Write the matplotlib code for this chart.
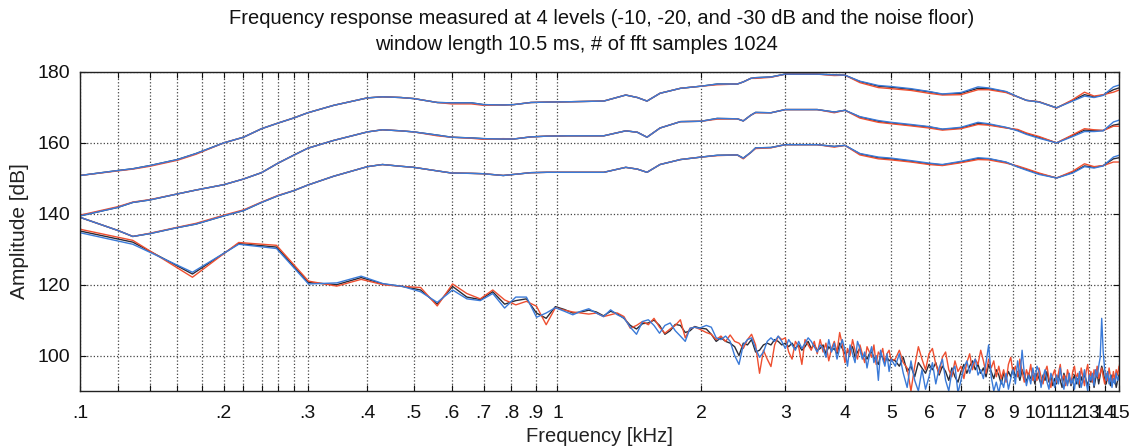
import matplotlib
matplotlib.use("Agg")
import matplotlib.pyplot as plt
from matplotlib.ticker import FixedLocator, FixedFormatter, NullFormatter

plt.rcParams['font.family'] = ['Liberation Sans', 'DejaVu Sans']

# ---------------- data ----------------
title_line1 = "Frequency response measured at 4 levels (-10, -20, and -30 dB and the noise floor)"
title_line2 = "window length 10.5 ms, # of fft samples 1024"
xlabel = "Frequency [kHz]"
ylabel = "Amplitude [dB]"

major_ticks = [0.1, 0.2, 0.3, 0.4, 0.5, 0.6, 0.7, 0.8, 0.9, 1, 2, 3, 4, 5, 6, 7, 8, 9,
               10, 11, 12, 13, 14, 15]
major_labels = ['.1', '.2', '.3', '.4', '.5', '.6', '.7', '.8', '.9', '1', '2', '3', '4',
                '5', '6', '7', '8', '9', '10', '11', '12', '13', '14', '15']
minor_ticks = [0.12, 0.14, 0.16, 0.18, 0.22, 0.24, 0.26, 0.28]
y_ticks = [100, 120, 140, 160, 180]
y_labels = ['100', '120', '140', '160', '180']

# smooth level curves (kHz)
freq_smooth = [0.1, 0.12, 0.129, 0.14, 0.16, 0.175, 0.2, 0.22, 0.24, 0.26, 0.28, 0.3, 0.34,
               0.4, 0.43, 0.47, 0.5, 0.56, 0.6, 0.66, 0.7, 0.77, 0.81, 0.88, 0.95, 1.05,
               1.25, 1.39, 1.47, 1.54, 1.64, 1.81, 2.0, 2.16, 2.38, 2.45, 2.54, 2.6, 2.8,
               3.0, 3.5, 3.8, 4.0, 4.3, 4.7, 5.0, 5.5, 6.0, 6.4, 7.0, 7.6, 8.0, 8.7, 9.2,
               9.6, 10.2, 11.1, 12.0, 12.7, 13.3, 13.9, 14.6, 15.0]

lvl10_black = [150.8, 152.2, 152.7, 153.6, 155.3, 157.0, 160.0, 161.6, 164.0, 165.6, 167.0,
               168.5, 170.6, 172.7, 173.0, 172.8, 172.5, 171.4, 171.3, 171.3, 170.8, 170.7,
               170.8, 171.4, 171.5, 171.6, 171.8, 173.5, 172.8, 171.8, 174.0, 175.4, 176.0,
               176.6, 176.6, 177.2, 178.2, 178.4, 178.6, 179.4, 179.4, 179.2, 179.1, 177.3,
               176.0, 175.7, 175.1, 174.4, 173.7, 174.0, 175.4, 175.3, 174.4, 173.0, 172.0,
               171.6, 169.9, 172.0, 173.6, 173.0, 173.5, 175.0, 175.5]
lvl10_red = [150.8, 152.1, 152.6, 153.4, 155.1, 156.8, 160.0, 161.6, 164.0, 165.6, 167.0,
             168.5, 170.6, 172.7, 173.0, 172.8, 172.5, 171.4, 171.0, 171.0, 170.6, 170.7,
             170.8, 171.4, 171.5, 171.6, 171.8, 173.5, 172.8, 171.8, 174.0, 175.4, 176.0,
             176.4, 176.6, 177.2, 178.2, 178.2, 178.5, 179.4, 179.4, 179.0, 179.1, 177.0,
             175.6, 175.3, 174.8, 174.0, 173.5, 173.6, 175.0, 175.0, 174.2, 173.0, 172.0,
             171.6, 169.8, 172.2, 174.3, 173.2, 173.6, 174.3, 174.9]
lvl10_blue = [150.8, 152.2, 152.7, 153.6, 155.3, 157.0, 160.0, 161.6, 164.0, 165.6, 167.0,
              168.5, 170.6, 172.7, 173.0, 172.8, 172.5, 171.4, 171.3, 171.3, 170.8, 170.7,
              170.8, 171.4, 171.5, 171.6, 171.8, 173.5, 172.8, 171.8, 174.0, 175.4, 176.0,
              176.6, 176.6, 177.2, 178.2, 178.4, 178.6, 179.4, 179.4, 179.2, 179.1, 177.4,
              176.2, 175.9, 175.3, 174.5, 173.8, 174.2, 175.8, 175.5, 174.5, 173.0, 172.0,
              171.5, 169.9, 171.8, 173.2, 172.8, 173.4, 175.8, 176.3]

lvl20_black = [139.4, 141.8, 143.2, 143.9, 145.6, 146.7, 148.2, 149.8, 151.6, 154.3, 156.5,
               158.5, 160.7, 163.1, 163.7, 163.4, 163.1, 162.2, 161.6, 161.4, 161.2, 161.1,
               161.1, 161.7, 161.9, 162.0, 162.0, 163.4, 163.0, 161.6, 164.2, 166.0, 166.1,
               166.9, 166.8, 166.2, 167.8, 168.6, 168.5, 169.4, 169.4, 168.7, 169.2, 167.3,
               166.1, 165.6, 165.0, 164.5, 163.8, 164.2, 165.5, 165.2, 164.3, 163.6, 162.6,
               161.6, 160.0, 162.1, 163.6, 163.5, 163.5, 165.0, 165.3]
lvl20_red = [139.6, 142.0, 143.3, 144.0, 145.6, 146.7, 148.2, 149.8, 151.6, 154.3, 156.5,
             158.5, 160.7, 163.1, 163.7, 163.4, 163.1, 162.0, 161.6, 161.3, 161.0, 161.2,
             161.1, 161.7, 161.9, 162.0, 162.0, 163.4, 163.0, 161.6, 164.2, 166.0, 166.1,
             166.7, 166.8, 166.2, 167.8, 168.5, 168.5, 169.4, 169.4, 168.5, 169.2, 167.0,
             165.8, 165.4, 164.8, 164.2, 163.6, 164.0, 165.2, 165.0, 164.2, 163.8, 162.8,
             161.8, 160.0, 162.3, 164.0, 163.7, 163.5, 164.7, 164.7]
lvl20_blue = [139.4, 141.8, 143.2, 143.9, 145.6, 146.7, 148.2, 149.8, 151.6, 154.3, 156.5,
              158.5, 160.7, 163.1, 163.7, 163.4, 163.1, 162.2, 161.6, 161.4, 161.2, 161.1,
              161.1, 161.7, 161.9, 162.0, 162.0, 163.4, 163.0, 161.6, 164.2, 166.0, 166.1,
              166.9, 166.8, 166.2, 167.8, 168.6, 168.5, 169.4, 169.4, 168.7, 169.2, 167.4,
              166.3, 165.8, 165.2, 164.6, 163.9, 164.4, 165.8, 165.4, 164.4, 163.4, 162.4,
              161.3, 160.0, 161.8, 163.2, 163.2, 163.4, 165.9, 166.4]

lvl30_black = [139.0, 135.3, 133.6, 134.4, 136.1, 137.1, 139.4, 140.9, 143.2, 145.1, 146.5,
               148.1, 150.6, 153.3, 153.9, 153.4, 153.1, 152.1, 151.5, 151.4, 151.3, 150.8,
               151.1, 151.6, 151.7, 151.7, 151.7, 153.1, 152.6, 151.7, 153.9, 155.3, 156.0,
               156.5, 156.6, 155.7, 157.3, 158.6, 158.7, 159.5, 159.5, 159.0, 159.3, 156.9,
               155.8, 155.5, 154.8, 154.1, 153.8, 154.6, 155.6, 155.5, 154.5, 153.3, 152.5,
               151.3, 150.1, 151.7, 153.5, 153.1, 153.6, 155.5, 155.8]
lvl30_red = [139.0, 135.3, 133.6, 134.5, 136.2, 137.3, 139.6, 141.1, 143.3, 145.2, 146.5,
             148.1, 150.6, 153.3, 153.9, 153.4, 153.1, 152.1, 151.5, 151.4, 151.3, 150.8,
             151.1, 151.6, 151.7, 151.7, 151.7, 153.1, 152.6, 151.7, 153.9, 155.3, 156.0,
             156.4, 156.6, 155.5, 157.3, 158.4, 158.6, 159.5, 159.5, 158.8, 159.3, 156.6,
             155.5, 155.2, 154.6, 153.9, 153.6, 154.4, 155.3, 155.2, 154.3, 153.5, 152.7,
             151.5, 150.1, 152.0, 154.1, 153.3, 153.6, 154.6, 154.6]
lvl30_blue = [139.0, 135.3, 133.6, 134.4, 136.1, 137.1, 139.4, 140.9, 143.2, 145.1, 146.5,
              148.1, 150.6, 153.3, 153.9, 153.4, 153.1, 152.1, 151.5, 151.4, 151.3, 150.8,
              151.1, 151.6, 151.7, 151.7, 151.7, 153.1, 152.6, 151.7, 153.9, 155.3, 156.0,
              156.5, 156.6, 155.7, 157.3, 158.6, 158.7, 159.5, 159.5, 159.0, 159.3, 157.0,
              156.0, 155.7, 155.0, 154.3, 153.9, 154.8, 155.8, 155.6, 154.6, 153.2, 152.3,
              151.1, 150.1, 151.5, 153.3, 152.9, 153.5, 156.0, 156.5]

# noise floor (kHz)
freq_noise = [0.086, 0.129, 0.172, 0.215, 0.258, 0.301, 0.345, 0.388, 0.431, 0.474,
              0.517, 0.560, 0.603, 0.646, 0.689, 0.732, 0.775, 0.818, 0.861, 0.904,
              0.947, 0.990, 1.034, 1.077, 1.120, 1.163, 1.206, 1.249, 1.292, 1.335,
              1.378, 1.421, 1.464, 1.507, 1.550, 1.593, 1.636, 1.679, 1.722, 1.765,
              1.809, 1.852, 1.895, 1.938, 1.981,
              2.05, 2.10, 2.15, 2.20, 2.25, 2.30, 2.35, 2.40, 2.45, 2.50,
              2.55, 2.60, 2.65, 2.70, 2.75, 2.80, 2.85, 2.90, 2.95, 3.00,
              3.05, 3.10, 3.15, 3.20, 3.25, 3.30, 3.35, 3.40, 3.45, 3.50,
              3.55, 3.60, 3.65, 3.70, 3.75, 3.80, 3.85, 3.90, 3.95, 4.00,
              4.05, 4.10, 4.15, 4.20, 4.25, 4.30, 4.35, 4.40, 4.45, 4.50,
              4.55, 4.60, 4.65, 4.70, 4.75, 4.80, 4.85, 4.90, 4.95, 5.00,
              5.1, 5.2, 5.3, 5.4, 5.5, 5.6, 5.7, 5.8, 5.9, 6.0,
              6.1, 6.2, 6.3, 6.4, 6.5, 6.6, 6.7, 6.8, 6.9, 7.0,
              7.1, 7.2, 7.3, 7.4, 7.5, 7.6, 7.7, 7.8, 7.9, 8.0,
              8.1, 8.2, 8.3, 8.4, 8.5, 8.6, 8.7, 8.8, 8.9, 9.0,
              9.1, 9.2, 9.3, 9.4, 9.5, 9.6, 9.7, 9.8, 9.9, 10.0,
              10.1, 10.2, 10.3, 10.4, 10.5, 10.6, 10.7, 10.8, 10.9, 11.0,
              11.1, 11.2, 11.3, 11.4, 11.5, 11.6, 11.7, 11.8, 11.9, 12.0,
              12.1, 12.2, 12.3, 12.4, 12.5, 12.6, 12.7, 12.8, 12.9, 13.0,
              13.1, 13.2, 13.3, 13.4, 13.5, 13.6, 13.7, 13.8, 13.9, 14.0,
              14.1, 14.2, 14.3, 14.4, 14.5, 14.6, 14.7, 14.8, 14.9, 15.0]

noise_black = [137.0, 132.0, 123.0, 131.6, 130.6, 120.6, 120.0, 122.0, 120.2, 119.5,
               118.5, 114.5, 119.5, 116.5, 115.8, 118.0, 114.5, 115.5, 116.0, 112.0,
               110.5, 113.8, 113.0, 112.0, 112.3, 112.8, 112.3, 111.2, 112.5, 111.8,
               110.5, 108.5, 107.5, 109.0, 109.2, 110.0, 108.5, 106.0, 107.0, 108.8,
               108.5, 106.5, 107.0, 108.2, 107.8,
               107.5, 106.0, 104.0, 105.0, 104.0, 103.5, 102.5, 100.0, 103.5, 103.0,
               104.5, 101.0, 101.5, 103.0, 103.5, 103.0, 104.5, 104.0, 103.0, 103.5,
               102.5, 103.5, 102.0, 103.0, 101.5, 102.5, 104.0, 102.0, 103.0, 101.5,
               102.0, 103.0, 100.5, 102.5, 101.5, 102.0, 100.5, 103.5, 102.0, 100.5,
               101.0, 101.5, 102.5, 99.5, 101.0, 102.0, 99.5, 100.0, 99.0, 100.5,
               101.0, 99.5, 98.5, 97.5, 100.0, 99.5, 98.0, 99.5, 98.5, 99.0,
               98.5, 97.0, 99.5, 95.5, 97.0, 94.0, 98.0, 96.5, 95.0, 97.5,
               96.0, 98.0, 94.5, 97.0, 95.5, 93.0, 96.5, 94.0, 92.5, 95.5,
               97.5, 95.0, 97.0, 98.5, 96.0, 97.5, 95.0, 96.5, 94.0, 97.5,
               95.5, 93.5, 96.0, 94.5, 92.0, 95.0, 93.5, 95.5, 94.0, 96.5,
               94.0, 95.5, 93.0, 96.0, 94.5, 92.5, 95.0, 93.5, 94.5, 92.0,
               95.0, 93.5, 92.0, 94.5, 93.0, 95.5, 92.5, 94.0, 91.5, 93.5,
               92.0, 94.5, 93.0, 91.0, 95.0, 93.5, 92.0, 94.0, 91.5, 93.0,
               94.5, 92.0, 93.5, 91.0, 94.0, 92.5, 95.0, 93.0, 91.5, 94.0,
               92.5, 94.0, 91.0, 93.5, 95.0, 92.0, 94.5, 97.0, 95.5, 93.0,
               92.0, 94.0, 93.0, 91.5, 94.5, 92.5, 93.5, 91.0, 93.0, 94.5]

noise_red = [137.5, 132.5, 122.1, 131.9, 131.1, 121.0, 119.6, 121.5, 120.0, 119.5,
             119.2, 114.0, 120.2, 117.5, 116.0, 118.5, 115.7, 114.3, 115.3, 113.9,
             108.7, 113.5, 112.8, 112.3, 112.0, 111.7, 112.0, 111.0, 111.5, 112.0,
             111.0, 107.7, 108.5, 109.6, 108.7, 110.5, 108.0, 106.3, 107.5, 108.5,
             110.1, 105.0, 107.7, 108.0, 107.5,
             106.5, 106.0, 104.5, 105.5, 104.0, 105.8, 104.0, 103.5, 102.0, 104.5,
             106.0, 103.0, 95.0, 101.5, 99.0, 96.9, 103.0, 105.4, 104.5, 105.0,
             101.0, 99.0, 104.0, 102.5, 97.5, 104.5, 103.0, 101.5, 104.0, 100.5,
             104.5, 101.0, 103.5, 98.5, 102.0, 104.0, 101.0, 106.5, 103.0, 98.0,
             102.0, 100.0, 104.5, 101.5, 99.0, 103.0, 100.5, 98.0, 102.5, 101.0,
             99.5, 103.0, 97.5, 101.0, 100.0, 102.0, 98.0, 100.5, 101.5, 98.5,
             99.0, 101.5, 98.0, 96.5, 90.0, 97.0, 102.5, 99.0, 96.0, 100.5,
             102.0, 97.5, 95.0, 99.5, 101.0, 96.0, 94.0, 98.5, 95.5, 97.0,
             93.5, 98.0, 100.5, 96.0, 99.0, 97.5, 101.5, 98.5, 95.0, 99.0,
             96.5, 98.5, 94.0, 97.0, 93.5, 96.0, 92.5, 97.5, 99.5, 95.0,
             97.0, 94.0, 99.0, 95.5, 92.5, 96.0, 94.0, 97.5, 93.0, 95.0,
             93.0, 96.5, 94.0, 92.0, 95.5, 97.0, 93.5, 91.0, 94.5, 96.0,
             92.5, 95.0, 97.5, 93.0, 94.5, 91.5, 96.0, 94.0, 92.0, 95.5,
             97.0, 93.5, 95.0, 92.0, 96.5, 94.0, 91.5, 95.5, 97.5, 93.0,
             95.5, 92.5, 96.0, 94.0, 97.0, 93.5, 95.0, 96.5, 94.0, 92.0,
             95.0, 93.0, 96.5, 94.0, 92.5, 95.5, 93.0, 96.0, 94.5, 97.0]

noise_blue = [136.6, 131.4, 123.5, 131.4, 130.2, 120.2, 120.5, 122.4, 120.3, 119.5,
              118.0, 115.0, 118.5, 116.0, 115.5, 117.5, 113.4, 116.5, 116.5, 110.8,
              112.0, 113.5, 112.5, 111.5, 112.5, 113.2, 112.0, 111.0, 112.9, 111.5,
              110.6, 108.0, 106.0, 109.6, 110.1, 108.5, 106.3, 108.5, 109.2, 107.0,
              105.5, 104.0, 107.7, 108.0, 107.7,
              108.5, 108.0, 105.0, 104.5, 105.5, 104.0, 100.0, 97.5, 103.0, 104.5,
              105.0, 102.0, 99.5, 101.0, 104.0, 105.0, 104.0, 105.5, 104.0, 102.0,
              104.5, 103.0, 101.5, 104.0, 102.0, 103.5, 105.0, 104.0, 102.5, 101.0,
              103.0, 102.0, 99.5, 104.5, 101.0, 103.5, 99.0, 102.0, 104.5, 101.5,
              97.0, 103.0, 100.5, 98.0, 104.0, 102.0, 99.0, 101.0, 96.5, 100.0,
              102.5, 98.0, 100.0, 93.0, 101.5, 99.0, 97.0, 100.5, 95.5, 99.0,
              97.0, 100.5, 95.0, 91.0, 98.5, 93.0, 90.0, 96.0, 90.5, 94.0,
              98.0, 92.0, 96.5, 99.0, 93.0, 90.0, 95.5, 97.0, 89.5, 93.0,
              96.5, 98.5, 95.0, 97.5, 99.0, 94.5, 96.0, 93.5, 98.0, 103.0,
              94.0, 90.0, 92.5, 89.5, 93.0, 91.0, 95.0, 90.5, 93.5, 96.0,
              92.0, 98.5, 94.0, 101.5, 95.0, 91.5, 94.5, 92.0, 96.5, 93.0,
              97.0, 95.5, 91.0, 94.0, 96.0, 92.5, 90.5, 95.0, 93.5, 91.0,
              94.5, 92.0, 96.5, 93.0, 90.5, 94.0, 91.5, 95.0, 92.0, 93.5,
              90.5, 94.0, 92.0, 95.5, 91.0, 93.0, 96.0, 92.5, 90.0, 94.5,
              93.0, 95.0, 91.5, 96.0, 94.0, 97.0, 99.5, 110.5, 101.0, 96.0,
              93.0, 95.5, 92.0, 94.5, 91.0, 93.5, 92.0, 95.0, 93.0, 94.0]

# ---------------- styles ----------------
C_BLACK = '#2b2b36'
C_RED = '#ee4f30'
C_BLUE = '#3a7ad8'
LW = 1.0

fig = plt.figure(figsize=(11.37, 4.47), dpi=100)
fig.patch.set_facecolor('white')
ax = fig.add_axes([80 / 1137, 1 - 391 / 447, 1039 / 1137, 319 / 447])

for fx, blk, red, blu in [(freq_noise, noise_black, noise_red, noise_blue),
                          (freq_smooth, lvl30_black, lvl30_red, lvl30_blue),
                          (freq_smooth, lvl20_black, lvl20_red, lvl20_blue),
                          (freq_smooth, lvl10_black, lvl10_red, lvl10_blue)]:
    ax.plot(fx, blk, color=C_BLACK, lw=LW)
    ax.plot(fx, red, color=C_RED, lw=LW)
    ax.plot(fx, blu, color=C_BLUE, lw=LW)

ax.set_xscale('log')
ax.set_xlim(0.1, 15)
ax.set_ylim(90, 180)

ax.xaxis.set_major_locator(FixedLocator(major_ticks))
ax.xaxis.set_major_formatter(FixedFormatter(major_labels))
ax.xaxis.set_minor_locator(FixedLocator(minor_ticks))
ax.xaxis.set_minor_formatter(NullFormatter())
ax.set_yticks(y_ticks)
ax.set_yticklabels(y_labels)

ax.grid(True, which='both', linestyle=':', color='#444444', linewidth=0.9)
ax.tick_params(axis='both', which='both', direction='in', length=4, width=0.8,
               top=True, right=True, labelsize=14, colors='#111111')
ax.tick_params(axis='x', which='major', pad=10)
ax.tick_params(axis='y', which='major', pad=7)
for s in ax.spines.values():
    s.set_color('#222222')
    s.set_linewidth(1.0)

ax.set_xlabel(xlabel, fontsize=14.5, labelpad=4, color='#222222')
ax.set_ylabel(ylabel, fontsize=15, labelpad=6, color='#222222')

fig.text(602 / 1137, 1 - 18 / 447, title_line1, ha='center', va='center', fontsize=14.5,
         color='#111111')
fig.text(576 / 1137, 1 - 45 / 447, title_line2, ha='center', va='center', fontsize=14.5,
         color='#111111')

fig.savefig('out.png', dpi=100, facecolor='white')
